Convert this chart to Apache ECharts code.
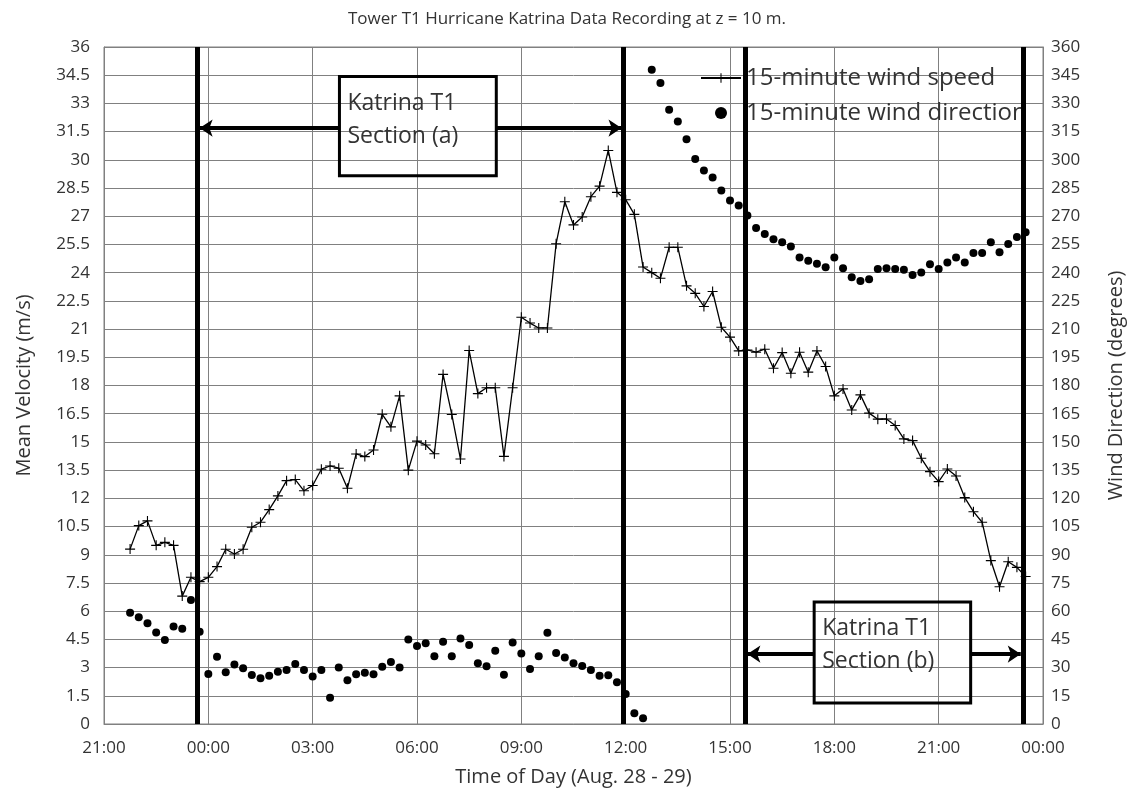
<!DOCTYPE html>
<html><head><meta charset="utf-8">
<script src="https://cdn.jsdelivr.net/npm/echarts@6/dist/echarts.min.js"></script>
<style>html,body{margin:0;padding:0;background:#fff}#c{width:1134px;height:795px}</style>
</head><body><div id="c"></div>
<script>
// 15-minute records, Aug 28 21:45 -> Aug 29 23:30
const times = [
 "21:45","22:00","22:15","22:30","22:45","23:00","23:15","23:30","23:45",
 "00:00","00:15","00:30","00:45","01:00","01:15","01:30","01:45",
 "02:00","02:15","02:30","02:45","03:00","03:15","03:30","03:45",
 "04:00","04:15","04:30","04:45","05:00","05:15","05:30","05:45",
 "06:00","06:15","06:30","06:45","07:00","07:15","07:30","07:45",
 "08:00","08:15","08:30","08:45","09:00","09:15","09:30","09:45",
 "10:00","10:15","10:30","10:45","11:00","11:15","11:30","11:45",
 "12:00","12:15","12:30","12:45","13:00","13:15","13:30","13:45",
 "14:00","14:15","14:30","14:45","15:00","15:15","15:30","15:45",
 "16:00","16:15","16:30","16:45","17:00","17:15","17:30","17:45",
 "18:00","18:15","18:30","18:45","19:00","19:15","19:30","19:45",
 "20:00","20:15","20:30","20:45","21:00","21:15","21:30","21:45",
 "22:00","22:15","22:30","22:45","23:00","23:15","23:30"
];
const windSpeed = [
 9.3,10.55,10.8,9.5,9.66,9.5,6.8,7.8,7.57,7.8,
 8.37,9.29,9.04,9.29,10.46,10.73,11.4,12.13,12.94,13.0,
 12.4,12.68,13.55,13.72,13.6,12.54,14.36,14.22,14.57,16.47,
 15.8,17.45,13.5,15.04,14.84,14.37,18.59,16.46,14.09,19.86,
 17.57,17.88,17.88,14.23,17.88,21.63,21.32,21.06,21.06,25.54,
 27.77,26.54,26.96,28.04,28.6,30.5,28.27,27.88,27.1,24.3,
 24.0,23.7,25.35,25.35,23.3,22.9,22.2,23.0,21.1,20.57,
 19.84,19.89,19.77,19.93,18.92,19.75,18.65,19.77,18.71,19.84,
 19.01,17.45,17.82,16.7,17.5,16.53,16.21,16.22,15.87,15.16,
 15.07,14.13,13.42,12.89,13.56,13.19,12.04,11.29,10.73,8.69,
 7.3,8.63,8.33,7.84
];
const windDirection = [
 59.2,56.7,53.6,48.6,44.7,51.8,50.7,66.0,49.1,26.6,
 35.8,27.5,31.7,29.6,26.1,24.3,25.7,27.8,28.7,31.9,
 28.7,25.2,28.7,14,30.0,23.2,26.4,27.3,26.5,30.5,
 33.0,30.0,45.0,41.5,43,36,43.8,36,45.5,42,
 32.3,30.7,39,26.2,43.4,37.5,29.2,36,48.5,37.7,
 35.3,32.3,30.9,28.7,25.7,25.9,22.2,16.0,5.7,3.0,
 347.9,340.8,326.6,320.4,311.0,300.4,294.3,290.6,283.7,278.4,
 275.7,270.4,263.7,260.6,257.8,256.2,253.9,248.0,246.3,244.7,
 242.9,248.0,242.4,237.6,235.6,236.5,241.9,242.4,241.9,241.5,
 238.8,240.1,244.5,241.9,245.4,248.0,245.4,250.4,250.4,256.2,
 250.9,255.3,258.9,261.5
];
const xTickLabels = ["21:00","00:00","03:00","06:00","09:00","12:00","15:00","18:00","21:00","00:00"];
// section boundaries, hours after Aug 28 21:00
const sectionLines = [2.69, 14.94, 18.44, 26.42];

function toHours(list){
  let day = 0, prev = -1;
  return list.map(t => {
    const [h, m] = t.split(':').map(Number);
    const mins = h * 60 + m;
    if (mins < prev) day++;
    prev = mins;
    return day * 24 + mins / 60 - 21;
  });
}
const hrs = toHours(times);
const FONT = '"Open Sans", "DejaVu Sans", sans-serif';
const GRID = '#808080';
const TXT = '#333';

const chart = echarts.init(document.getElementById('c'), null, {renderer: 'canvas'});
const plus = 'path://M-0.11,-1H0.11V-0.11H1V0.11H0.11V1H-0.11V0.11H-1V-0.11H-0.11Z';

const arrowY_a = 31.69, arrowY_b = 3.72;
const boxA = {x0: 6.77, x1: 11.28, y0: 34.43, y1: 29.15};
const boxB = {x0: 20.42, x1: 24.92, y0: 6.49, y1: 1.12};

const markLines = sectionLines.map(v => ({xAxis: v, lineStyle: {width: 5, color: '#000', type: 'solid'}}));
function arrow(x1, x2, y){
  return [{coord: [x1, y], symbol: 'none'}, {coord: [x2, y], symbol: 'arrow'}];
}
const arrows = [
  arrow(boxA.x0, sectionLines[0] + 0.06, arrowY_a),
  arrow(boxA.x1, sectionLines[1] - 0.06, arrowY_a),
  arrow(boxB.x0, sectionLines[2] + 0.06, arrowY_b),
  arrow(boxB.x1, sectionLines[3] - 0.06, arrowY_b)
];

chart.setOption({
  animation: false,
  backgroundColor: '#fff',
  textStyle: {fontFamily: FONT},
  title: {
    text: 'Tower T1 Hurricane Katrina Data Recording at z = 10 m.',
    left: 'center', top: 6,
    textStyle: {fontSize: 17, fontWeight: 'normal', color: TXT, fontFamily: FONT}
  },
  legend: {
    orient: 'vertical', left: 695, top: 61, itemGap: 11, itemWidth: 40, itemHeight: 12,
    textStyle: {fontSize: 24, color: TXT, fontFamily: FONT},
    data: ['15-minute wind speed', '15-minute wind direction']
  },
  grid: {left: 104, right: 90, top: 47, bottom: 71, show: true, borderColor: GRID, borderWidth: 1},
  xAxis: {
    type: 'value', min: 0, max: 27, interval: 3,
    name: 'Time of Day (Aug. 28 - 29)', nameLocation: 'middle', nameGap: 43,
    nameTextStyle: {fontSize: 20, color: TXT},
    axisLine: {show: true, lineStyle: {color: GRID}},
    axisTick: {show: false},
    axisLabel: {fontSize: 17, color: TXT, margin: 16, formatter: v => xTickLabels[Math.round(v / 3)]},
    splitLine: {show: true, lineStyle: {color: GRID, width: 1}}
  },
  yAxis: [{
    type: 'value', min: 0, max: 36, interval: 1.5,
    name: 'Mean Velocity (m/s)', nameLocation: 'middle', nameGap: 70, nameRotate: 90,
    nameTextStyle: {fontSize: 20, color: TXT},
    axisLine: {show: true, lineStyle: {color: GRID}},
    axisTick: {show: false},
    axisLabel: {fontSize: 17, color: TXT, margin: 14},
    splitLine: {show: true, lineStyle: {color: GRID, width: 1}}
  }, {
    type: 'value', min: 0, max: 360, interval: 15, position: 'right',
    name: 'Wind Direction (degrees)', nameLocation: 'middle', nameGap: 63, nameRotate: 90,
    nameTextStyle: {fontSize: 20, color: TXT},
    axisLine: {show: true, lineStyle: {color: GRID}},
    axisTick: {show: false},
    axisLabel: {fontSize: 17, color: TXT, margin: 8},
    splitLine: {show: false}
  }],
  series: [{
    name: '15-minute wind speed', type: 'line',
    data: hrs.map((x, i) => [x, windSpeed[i]]),
    symbol: plus, symbolSize: 10, showSymbol: true,
    lineStyle: {color: '#000', width: 1.3},
    itemStyle: {color: '#000', opacity: 1},
    markLine: {
      silent: true, animation: false, symbol: ['none', 'none'], symbolSize: 13,
      label: {show: false},
      lineStyle: {color: '#000', width: 4, type: 'solid'},
      data: markLines.concat(arrows)
    },
    z: 3
  }, {
    name: '15-minute wind direction', type: 'scatter', yAxisIndex: 1,
    data: hrs.map((x, i) => [x, windDirection[i]]),
    symbol: 'circle', symbolSize: 8,
    itemStyle: {color: '#000', opacity: 1},
    z: 3
  }]
});

function px(x, y){ return chart.convertToPixel({xAxisIndex: 0, yAxisIndex: 0}, [x, y]); }
function boxGraphic(b, label){
  const p0 = px(b.x0, b.y0), p1 = px(b.x1, b.y1);
  return [{
    type: 'rect', z: 10,
    shape: {x: p0[0], y: p0[1], width: p1[0] - p0[0], height: p1[1] - p0[1]},
    style: {fill: 'none', stroke: '#000', lineWidth: 3}
  }, {
    type: 'text', z: 10, x: p0[0] + 8, y: p0[1] + 10,
    style: {text: label, font: '23px ' + FONT, fill: TXT, lineHeight: 33}
  }];
}
chart.setOption({graphic: boxGraphic(boxA, 'Katrina T1\nSection (a)').concat(boxGraphic(boxB, 'Katrina T1\nSection (b)'))});
</script>
</body></html>
